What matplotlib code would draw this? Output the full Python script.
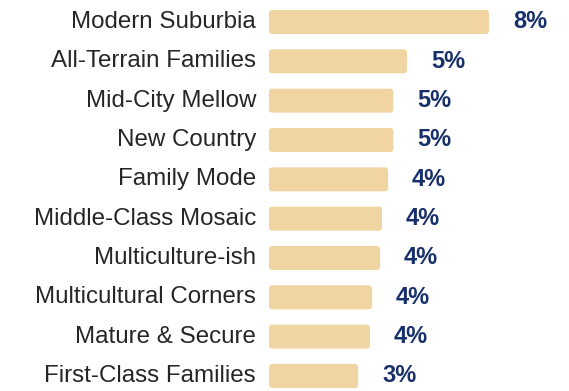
import matplotlib
matplotlib.use("Agg")
import matplotlib.pyplot as plt
from matplotlib.patches import FancyBboxPatch

segments = [
    "Modern Suburbia", "All-Terrain Families", "Mid-City Mellow", "New Country",
    "Family Mode", "Middle-Class Mosaic", "Multiculture-ish",
    "Multicultural Corners", "Mature & Secure", "First-Class Families",
]
shares = [8.0, 5.02, 4.52, 4.52, 4.33, 4.11, 4.04, 3.75, 3.67, 3.24]

W, H, DPI = 569, 391, 100
px_per_unit_x = 27.5      # pixels per percentage point
px_per_row = 39.33
x0_px = 269               # where the bars start
first_row_px = 22

fig = plt.figure(figsize=(W / DPI, H / DPI), dpi=DPI)
ax = fig.add_axes([0, 0, 1, 1])
ax.set_xlim(-x0_px / px_per_unit_x, (W - x0_px) / px_per_unit_x)
ax.set_ylim((H - first_row_px) / px_per_row, -first_row_px / px_per_row)
ax.axis("off")

bar_color = "#F0D4A1"
value_color = "#172F6B"
label_color = "#262626"
bar_h = 0.61

bars = ax.barh(range(len(segments)), shares, height=bar_h, color="none")
r_px = 3.5
for rect in bars:
    x, y = rect.get_x(), rect.get_y()
    w, h = rect.get_width(), rect.get_height()
    rs = r_px / px_per_unit_x
    ax.add_patch(FancyBboxPatch(
        (x, y), w, h,
        boxstyle=f"round,pad=0,rounding_size={rs}",
        mutation_aspect=px_per_unit_x / px_per_row,
        facecolor=bar_color, edgecolor="none"))

label_x = -13 / px_per_unit_x
gap = 24 / px_per_unit_x
for i, (name, v) in enumerate(zip(segments, shares)):
    ax.text(label_x, i, name, ha="right", va="center", fontsize=17.4,
            family="Liberation Sans", color=label_color)
    ax.text(v + gap, i, f"{v:.0f}%", ha="left", va="center", fontsize=17,
            family="Liberation Sans", fontweight="bold", color=value_color)

fig.savefig("out.png", dpi=DPI)
